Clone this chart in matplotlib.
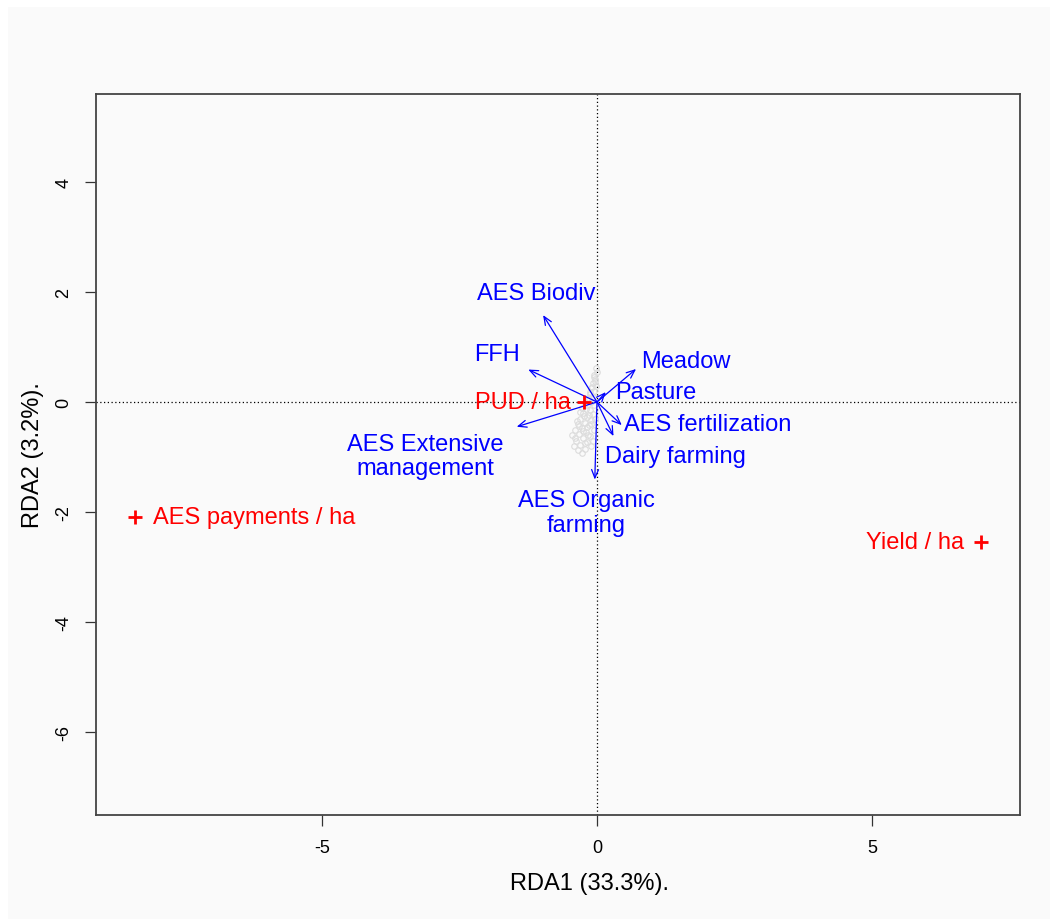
import matplotlib
matplotlib.use("Agg")
import matplotlib.pyplot as plt
from matplotlib.patches import Rectangle

plt.rcParams["font.family"] = ["Liberation Sans", "DejaVu Sans"]
plt.rcParams["axes.unicode_minus"] = False

# explanatory variables (biplot arrows), RDA1 / RDA2 scores
VAR_NAMES = ["AES Biodiv", "FFH", "AES Extensive\nmanagement", "Meadow", "Pasture",
             "AES fertilization", "Dairy farming", "AES Organic\nfarming"]
VAR_RDA1 = [-0.98, -1.25, -1.46, 0.71, 0.16, 0.45, 0.30, -0.04]
VAR_RDA2 = [1.58, 0.59, -0.45, 0.60, 0.18, -0.42, -0.62, -1.41]

# response variables (centroids, red crosses)
RESP_NAMES = ["PUD / ha", "AES payments / ha", "Yield / ha"]
RESP_RDA1 = [-0.24, -8.40, 6.98]
RESP_RDA2 = [0.00, -2.09, -2.55]

# site scores
SITE_RDA1 = [-0.02, 0.00, -0.05, -0.03, -0.08, -0.02, -0.10, -0.05, -0.12, -0.07,
             -0.15, -0.10, -0.18, -0.05, -0.20, -0.12, -0.25, -0.08, -0.18, -0.30,
             -0.10, -0.22, -0.35, -0.15, -0.28, -0.40, -0.05, -0.20, -0.33, -0.45,
             -0.12, -0.25, -0.38, -0.18, -0.30, -0.42, -0.10, -0.22, -0.35, -0.28,
             -0.06, -0.04, -0.09, -0.13, -0.16, -0.22, -0.27, -0.31, -0.24, -0.36,
             -0.14, -0.19, -0.26, -0.32, -0.40, -0.16, -0.08, -0.03, -0.11, -0.21]
SITE_RDA2 = [0.62, 0.55, 0.50, 0.42, 0.35, 0.30, 0.25, 0.20, 0.15, 0.10,
             0.05, 0.00, -0.05, -0.05, -0.12, -0.15, -0.20, -0.22, -0.28, -0.30,
             -0.32, -0.38, -0.40, -0.42, -0.48, -0.50, -0.50, -0.55, -0.58, -0.60,
             -0.62, -0.66, -0.70, -0.72, -0.78, -0.80, -0.80, -0.85, -0.88, -0.92,
             0.46, 0.38, 0.28, 0.18, 0.08, -0.02, -0.10, -0.18, -0.26, -0.34,
             -0.24, -0.46, -0.52, -0.44, -0.66, -0.60, -0.70, -0.30, -0.40, -0.75]

# where each arrow label sits (data units)
VAR_LABEL_XY = [(-1.11, 1.98), (-1.82, 0.87), (-3.12, -0.98), (1.62, 0.75),
                (1.07, 0.18), (2.02, -0.40), (1.42, -0.98), (-0.19, -2.01)]

BG = "#fafafa"
BLUE = "#0000ff"
RED = "#ff0000"

fig = plt.figure(figsize=(10.5, 9.2), dpi=100, facecolor="white")
fig.patches.append(Rectangle((8 / 1050, 0), 1, 1 - 8 / 920, transform=fig.transFigure,
                             facecolor=BG, edgecolor="none", zorder=-10))
ax = fig.add_axes([96 / 1050, 1 - 816 / 920, 924 / 1050, 721 / 920])
ax.set_facecolor(BG)
ax.set_xlim(-9.109, 7.691)
ax.set_ylim(-7.509, 5.6)

ax.axhline(0, color="black", ls=(0, (1, 2)), lw=0.9, zorder=1)
ax.axvline(0, color="black", ls=(0, (1, 2)), lw=0.9, zorder=1)

ax.plot(SITE_RDA1, SITE_RDA2, "o", ms=4, mfc="none", mec="#dcdcdc", mew=0.8, zorder=2)

for (lx, ly), name, x, y in zip(VAR_LABEL_XY, VAR_NAMES, VAR_RDA1, VAR_RDA2):
    ax.annotate("", xy=(x, y), xytext=(0, 0),
                arrowprops=dict(arrowstyle="->,head_length=0.6,head_width=0.25",
                                color=BLUE, lw=0.9, shrinkA=0, shrinkB=0), zorder=3)
    ax.text(lx, ly, name, color=BLUE, fontsize=17, ha="center", va="center",
            linespacing=1.15, zorder=4)

ax.plot(RESP_RDA1, RESP_RDA2, "+", color=RED, ms=10, mew=2.0, zorder=5)
# label offsets: left of the cross for PUD and Yield, right for AES payments
offsets = [(-9, "right"), (13, "left"), (-12, "right")]
for name, x, y, (dx, ha) in zip(RESP_NAMES, RESP_RDA1, RESP_RDA2, offsets):
    ax.annotate(name, (x, y), xytext=(dx, 0), textcoords="offset points",
                color=RED, fontsize=17, ha=ha, va="center", zorder=5)

ax.set_xticks([-5, 0, 5])
ax.set_yticks([-6, -4, -2, 0, 2, 4])
ax.tick_params(length=8, width=0.9, color="#333333", labelsize=13, pad=9)
for lab in ax.get_yticklabels():
    lab.set_rotation(90)
    lab.set_va("center")
for sp in ax.spines.values():
    sp.set_color("#444444")
    sp.set_linewidth(1.3)

fig.text(589 / 1050, 1 - 884 / 920, "RDA1 (33.3%).", fontsize=17, ha="center", va="center")
fig.text(33 / 1050, 1 - 455 / 920, "RDA2 (3.2%).", fontsize=17, ha="center", va="center",
         rotation=90)

fig.savefig("out.png", dpi=100, facecolor=fig.get_facecolor())
